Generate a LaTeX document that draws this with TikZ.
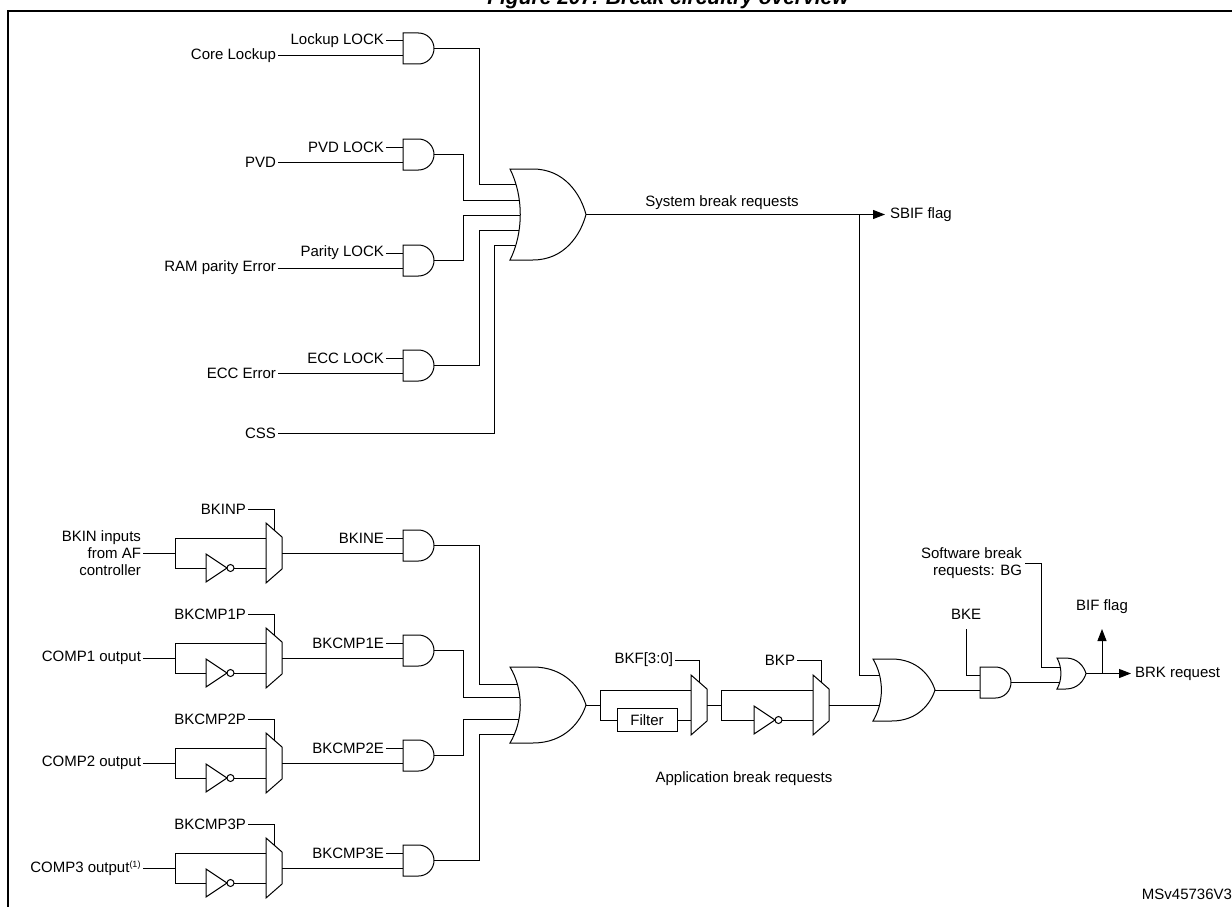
\documentclass[tikz,border=0pt]{standalone}
\usepackage{fontspec}
\setmainfont{Liberation Sans}
\usetikzlibrary{arrows.meta}
\newcommand\andg[3]{% x, top, name
  \draw[gate] (#1,#2) -- ++(15.5,0) arc(-90:90:15.5) -- ++(-15.5,0) -- cycle;
  \coordinate (#3-in1) at (#1,#2+8);
  \coordinate (#3-in2) at (#1,#2+23);
  \coordinate (#3-out) at (#1+31,#2+15.5);}
\newcommand\org[5]{% x, top, h, w, name
  \draw[gate] (#1,#2) -- (#1+0.3*#4,#2) .. controls (#1+0.72*#4,#2) and (#1+0.93*#4,#2+0.28*#3) .. (#1+#4,#2+0.5*#3)
   .. controls (#1+0.93*#4,#2+0.72*#3) and (#1+0.72*#4,#2+#3) .. (#1+0.3*#4,#2+#3) -- (#1,#2+#3)
   .. controls (#1+0.18*#4,#2+0.7*#3) and (#1+0.18*#4,#2+0.3*#3) .. cycle;
  \coordinate (#5-out) at (#1+#4,#2+0.5*#3);}
\newcommand\muxg[3]{% x, top, name
  \draw[gate] (#1,#2) -- (#1+16,#2+14) -- (#1+16,#2+46) -- (#1,#2+60) -- cycle;
  \coordinate (#3-in1) at (#1,#2+15);
  \coordinate (#3-in2) at (#1,#2+45);
  \coordinate (#3-out) at (#1+16,#2+30);
  \coordinate (#3-sel) at (#1+8,#2+7);}
\newcommand\invg[3]{% x, y, name
  \draw[gate] (#1,#2-14) -- (#1+21,#2) -- (#1,#2+14) -- cycle;
  \draw[gate] (#1+24.5,#2) circle (3.5);
  \coordinate (#3-in) at (#1,#2);
  \coordinate (#3-out) at (#1+28,#2);}
\begin{document}
\begin{tikzpicture}[x=1pt,y=-1pt,line width=1pt,
  gate/.style={draw=black,fill=white,line width=1pt},
  lbl/.style={inner sep=1.5pt,font=\fontsize{15}{17}\selectfont},
  arr/.style={-{Triangle[length=12pt,width=9pt]}}]
\useasboundingbox (0,0) rectangle (1232,907);
\clip (0,0) rectangle (1232,907);
\node[anchor=base,font=\bfseries\itshape\fontsize{21}{24}\selectfont] (title) at (668,5) {Figure 207. Break circuitry overview};
\draw[line width=2pt] (8,11) rectangle (1245,920);
% ---------- system break section
\foreach \t/\lk/\in/\nm in {33/Lockup LOCK/Core Lockup/a1,139/PVD LOCK/PVD/a2,245/Parity LOCK/RAM parity Error/a3,350/ECC LOCK/ECC Error/a4}{
  \andg{403}{\t}{\nm}
  \node[lbl,anchor=east] (\nm-l1) at (386,\t+8) {\lk};
  \node[lbl,anchor=east] (\nm-l2) at (278,\t+23) {\in};
  \draw (\nm-l1.east) -- (\nm-in1);
  \draw (\nm-l2.east) -- (\nm-in2);
}
\node[lbl,anchor=east] (css) at (278,433) {CSS};
\draw (a1-out) -| (479,184) -- (530,184);
\draw (a2-out) -| (463,200) -- (530,200);
\draw (a3-out) -| (463,215) -- (530,215);
\draw (a4-out) -| (479,230) -- (530,230);
\draw (css.east) -| (494,245) -- (530,245);
\org{510}{169}{91}{76}{o1}
\coordinate (sbif) at (885,214.5);
\draw[arr] (o1-out) -- (sbif);
\node[lbl,anchor=west] (sbifl) at (888,214.5) {SBIF flag};
\node[lbl,anchor=base] (sysl) at (722,206) {System break requests};
% ---------- application break section
\foreach \t/\p/\e/\nm in {523/BKINP/BKINE/m1,628/BKCMP1P/BKCMP1E/m2,733/BKCMP2P/BKCMP2E/m3,838/BKCMP3P/BKCMP3E/m4}{
  \muxg{266}{\t}{\nm}
  \invg{206}{\t+45}{\nm i}
  \andg{403}{\t+7}{\nm a}
  \node[lbl,anchor=east] (\nm-p) at (248,\t-14) {\p};
  \draw (\nm-p.east) -| (\nm-sel);
  \node[lbl,anchor=east] (\nm-e) at (386,\t+15) {\e};
  \draw (\nm-e.east) -- (\nm a-in1);
  \draw (\nm-out) -- (\nm a-in2);
  \coordinate (\nm-sp) at (175,\t+30);
  \draw (175,\t+15) -- (175,\t+45);
  \draw (175,\t+15) -- (\nm-in1);
  \draw (175,\t+45) -- (\nm i-in);
  \draw (\nm i-out) -- (\nm-in2);
}
\node[lbl,anchor=east,align=right] (bkin) at (143,553) {BKIN inputs\\from AF\\controller};
\node[lbl,anchor=east] (c1) at (143,658) {COMP1 output};
\node[lbl,anchor=east] (c2) at (143,763) {COMP2 output};
\node[lbl,anchor=east] (c3) at (143,868) {COMP3 output\textsuperscript{\fontsize{9}{9}\selectfont(1)}};
\draw (bkin.east) -- (m1-sp);
\draw (c1.east) -- (m2-sp);
\draw (c2.east) -- (m3-sp);
\draw (c3.east) -- (m4-sp);
\draw (m1a-out) -| (479,684) -- (530,684);
\draw (m2a-out) -| (463,697) -- (530,697);
\draw (m3a-out) -| (463,719) -- (530,719);
\draw (m4a-out) -| (479,734) -- (530,734);
\org{510}{667}{76}{76}{o2}
% filter mux
\muxg{691}{675}{f}
\node[draw,minimum width=60pt,minimum height=23pt,inner sep=0pt,lbl] (filter) at (647,720) {Filter};
\draw (o2-out) -- (600,705);
\draw (600,690) -- (600,720);
\draw (600,690) -- (f-in1);
\draw (600,720) -- (filter.west);
\draw (filter.east) -- (f-in2);
\node[lbl,anchor=east] (bkf) at (675,660) {BKF[3:0]};
\draw (bkf.east) -| (f-sel);
% polarity mux
\muxg{813}{675}{p}
\invg{754}{720}{pi}
\draw (f-out) -- (721,705);
\draw (721,690) -- (721,720);
\draw (721,690) -- (p-in1);
\draw (721,720) -- (pi-in);
\draw (pi-out) -- (p-in2);
\node[lbl,anchor=east] (bkp) at (797,660) {BKP};
\draw (bkp.east) -| (p-sel);
\node[lbl] (appl) at (744,779) {Application break requests};
% final gates
\draw (p-out) -- (890,705);
\draw (859,214.5) |- (890,675);
\org{873}{659}{62}{62}{o3}
\andg{980}{667}{a5}
\draw (o3-out) -- (a5-in2);
\node[lbl] (bke) at (966,614) {BKE};
\draw (966,629) |- (a5-in1);
\draw (a5-out) -- (1070,682.5);
\draw (1041,563) -- (1041,667) -- (1070,667);
\node[lbl,anchor=east,align=right] (sw) at (1024,563) {Software break\\requests: BG};
\draw (1025,563) -- (1041,563);
\org{1057}{658}{31}{29}{o4}
\coordinate (brk) at (1131,673.5);
\draw[arr] (o4-out) -- (brk);
\coordinate (bif) at (1102,629);
\draw[arr] (1102,673.5) -- (bif);
\node[lbl] (bifl) at (1102,607) {BIF flag};
\node[lbl,anchor=west] (brkl) at (1133,673.5) {BRK request};
\node[lbl,anchor=east] (ms) at (1234,894) {MSv45736V3};
\end{tikzpicture}
\end{document}
